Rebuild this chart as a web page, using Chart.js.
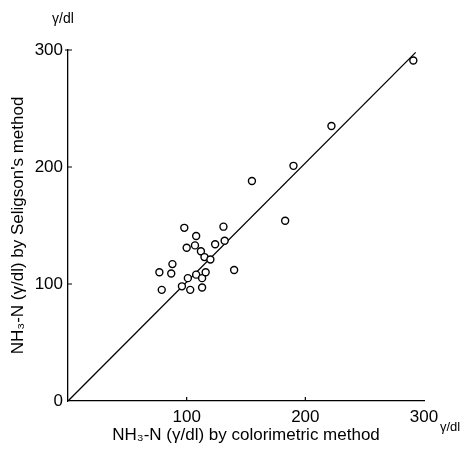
<!DOCTYPE html>
<html>
<head>
<meta charset="utf-8">
<script src="https://cdn.jsdelivr.net/npm/chart.js@4/dist/chart.umd.min.js"></script>
<style>
  body { margin: 0; background: #fff; }
  canvas { display: block; }
</style>
</head>
<body>
<canvas id="nh3Chart" width="465" height="450"></canvas>
<script>
// NH3-N values (γ/dl)
const colorimetric = [79, 77, 87, 88, 96, 100, 101, 103, 98, 107, 108, 108, 112, 113, 113, 115, 116, 120, 124, 131, 132, 140, 155, 183, 190, 222, 291];
const seligson     = [95, 110, 109, 117, 98, 131, 105, 95, 148, 133, 141, 108, 128, 105, 97, 123, 110, 121, 134, 149, 137, 112, 188, 154, 201, 235, 291];
const lineX = [0, 293];
const lineY = [0, 298];
const tickValues = [0, 100, 200, 300];

const points = colorimetric.map((x, i) => ({ x: x, y: seligson[i] }));
const fitLine = lineX.map((x, i) => ({ x: x, y: lineY[i] }));

const fontFam = "'Liberation Sans', Arial, sans-serif";

const extras = {
  id: 'extras',
  afterDraw(chart) {
    const ctx = chart.ctx;
    const xs = chart.scales.x, ys = chart.scales.y;
    const x0 = xs.getPixelForValue(0), y0 = ys.getPixelForValue(0);
    ctx.save();
    ctx.strokeStyle = '#000';
    ctx.lineWidth = 1.2;
    ctx.beginPath();
    // small inner ticks
    [100, 200].forEach(v => {
      const px = xs.getPixelForValue(v);
      ctx.moveTo(px, y0); ctx.lineTo(px, y0 - 4);
      const py = ys.getPixelForValue(v);
      ctx.moveTo(x0, py); ctx.lineTo(x0 + 4, py);
    });
    const top = ys.getPixelForValue(300);
    ctx.moveTo(x0 - 3, top); ctx.lineTo(x0 + 4, top);
    ctx.stroke();
    // unit labels
    ctx.fillStyle = '#000';
    ctx.textAlign = 'center';
    ctx.textBaseline = 'middle';
    ctx.font = '14px ' + fontFam;
    ctx.fillText('γ/dl', 63, 19);
    ctx.font = '13px ' + fontFam;
    ctx.fillText('γ/dl', 450, 427);
    ctx.restore();
  }
};

new Chart(document.getElementById('nh3Chart'), {
  type: 'scatter',
  data: {
    datasets: [
      {
        data: points,
        pointStyle: 'circle',
        pointRadius: 3.5,
        pointBorderWidth: 1.4,
        pointBorderColor: '#000',
        pointBackgroundColor: '#fff'
      },
      {
        type: 'line',
        data: fitLine,
        borderColor: '#000',
        borderWidth: 1.3,
        pointRadius: 0,
        fill: false
      }
    ]
  },
  options: {
    responsive: false,
    animation: false,
    layout: { padding: { top: 50, right: 41, bottom: 0, left: 0 } },
    plugins: { legend: { display: false }, tooltip: { enabled: false } },
    scales: {
      x: {
        type: 'linear',
        min: 0, max: 300,
        afterFit: (s) => { s.height = 49; },
        afterBuildTicks: (s) => { s.ticks = tickValues.map(v => ({ value: v })); },
        border: { display: true, color: '#000', width: 1.3 },
        grid: { drawOnChartArea: false, drawTicks: false },
        ticks: {
          color: '#000', padding: 6,
          font: { family: fontFam, size: 17 },
          callback: (v) => v === 0 ? '' : v
        },
        title: {
          display: true,
          text: 'NH₃-N (γ/dl) by colorimetric method',
          color: '#000',
          font: { family: fontFam, size: 17 },
          padding: { top: 0, bottom: 4 }
        }
      },
      y: {
        type: 'linear',
        min: 0, max: 300,
        afterFit: (s) => { s.width = 68; },
        afterBuildTicks: (s) => { s.ticks = tickValues.map(v => ({ value: v })); },
        border: { display: true, color: '#000', width: 1.3 },
        grid: { drawOnChartArea: false, drawTicks: false },
        ticks: {
          color: '#000', padding: 5,
          font: { family: fontFam, size: 17 }
        },
        title: {
          display: true,
          text: "NH₃-N (γ/dl) by Seligson's method",
          color: '#000',
          font: { family: fontFam, size: 17 },
          padding: { top: 8, bottom: 0 }
        }
      }
    }
  },
  plugins: [extras]
});
</script>
</body>
</html>
